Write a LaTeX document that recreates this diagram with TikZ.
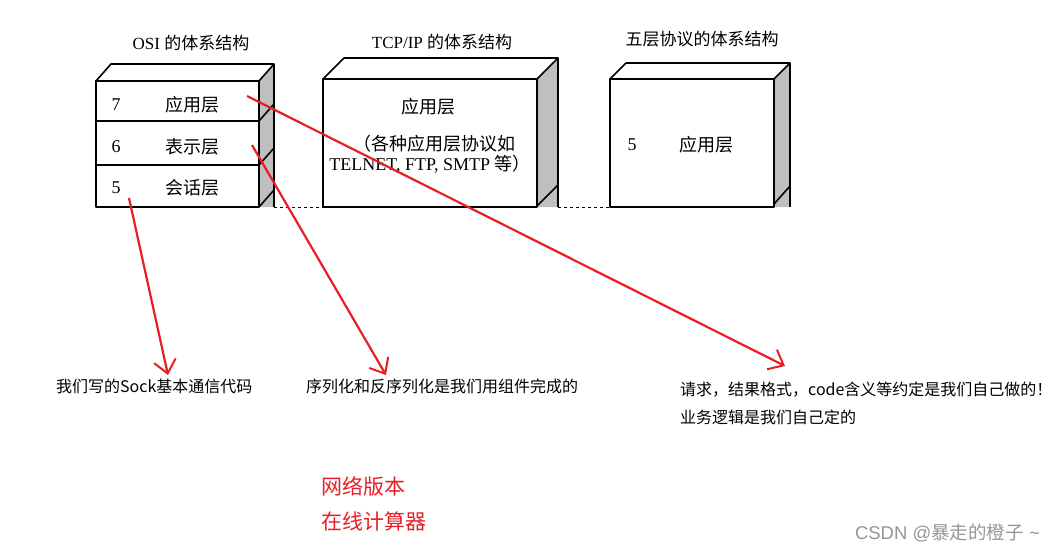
\documentclass[tikz,border=0pt]{standalone}
\usepackage{fontspec}
\setmainfont{Liberation Serif}
\setsansfont{Liberation Sans}
\newfontfamily\cjk{Noto Sans CJK SC}
\usepackage{xcolor}
\usepackage{tikz}
\usetikzlibrary{arrows.meta, positioning, calc}
\definecolor{penred}{RGB}{232,30,38}
\definecolor{wmgray}{RGB}{150,150,150}

\begin{document}
\begin{tikzpicture}[x=1pt, y=-1pt,
  box/.style={line width=1.6pt, line join=round},
  sideface/.style={fill=gray!50},
  title/.style={font=\fontsize{17}{20}\selectfont},
  layer/.style={font=\fontsize{18}{21}\selectfont},
  note/.style={font=\cjk\fontsize{16}{19}\selectfont, inner sep=0pt, anchor=west},
  redtext/.style={font=\cjk\fontsize{21}{25}\selectfont, text=penred, inner sep=0pt, anchor=west},
  pen/.style={penred, line width=2.2pt, -{Straight Barb[length=13pt, width=22pt, line width=2pt]}}]
  \useasboundingbox (0,0) rectangle (1056,552);

  % Titles
  \node[title] (osititle) at (191,43) {OSI {\cjk 的体系结构}};
  \node[title] (tcptitle) at (442,42) {TCP/IP {\cjk 的体系结构}};
  \node[title] (fivetitle) at (702,39) {\cjk 五层协议的体系结构};

  % OSI stack
  \fill[sideface] (259,81) -- (274,64) -- (274,207) -- (259,207) -- cycle;
  \draw[box] (96,81) -- (111,64) -- (274,64) -- (259,81);
  \draw[box] (96,81) rectangle (259,207);
  \draw[box] (274,64) -- (274,207);
  \draw[box] (96,121) -- (259,121) -- (274,104);
  \draw[box] (96,165) -- (259,165) -- (274,148);
  \draw[box] (259,207) -- (274,190);
  \node[layer] (n7) at (116,105) {7};
  \node[layer] (app) at (192,105) {\cjk 应用层};
  \node[layer] (n6) at (116,147) {6};
  \node[layer] (pres) at (192,147) {\cjk 表示层};
  \node[layer] (n5) at (116,188) {5};
  \node[layer] (sess) at (192,188) {\cjk 会话层};

  % TCP/IP stack
  \fill[sideface] (537,79) -- (558,58) -- (558,207) -- (537,207) -- cycle;
  \draw[box] (323,79) -- (344,58) -- (558,58) -- (537,79);
  \draw[box] (323,79) rectangle (537,207);
  \draw[box] (558,58) -- (558,207);
  \draw[box] (537,206) -- (558,185);
  \node[layer] (tcpapp) at (428,107) {\cjk 应用层};
  \node[layer] (tcpline1) at (434,144) {\cjk （各种应用层协议如};
  \node[layer] (tcpline2) at (430,164) {TELNET, FTP, SMTP {\cjk 等）}};

  % five layer stack
  \fill[sideface] (774,79) -- (790,63) -- (790,207) -- (774,207) -- cycle;
  \draw[box] (610,79) -- (626,63) -- (790,63) -- (774,79);
  \draw[box] (610,79) rectangle (774,207);
  \draw[box] (790,63) -- (790,207);
  \draw[box] (774,204) -- (790,186);
  \node[layer] (fn5) at (632,145) {5};
  \node[layer] (fiveapp) at (706,145) {\cjk 应用层};

  % dashed baseline
  \draw[dashed, line width=0.8pt] (274,207) -- (323,207);
  \draw[dashed, line width=0.8pt] (558,207) -- (610,207);

  % Notes
  \node[note] (socknote) at (56,386) {我们写的Sock基本通信代码};
  \node[note] (sernote) at (306,386) {序列化和反序列化是我们用组件完成的};
  \node[note] (reqnote) at (680,390) {请求，结果格式，code含义等约定是我们自己做的！};
  \node[note] (biznote) at (680,417) {业务逻辑是我们自己定的};
  \node[redtext] (netver) at (321,486) {网络版本};
  \node[redtext] (calcver) at (321,521) {在线计算器};
  \node[font=\sffamily\fontsize{18.5}{22}\selectfont, text=wmgray, anchor=east, inner sep=0pt] (wm) at (1040,533) {CSDN @{\cjk 暴走的橙子} \textasciitilde};

  % Red arrows
  \coordinate (sessfrom) at (129,198);
  \coordinate (socktip) at (168,375);
  \coordinate (presfrom) at (252,145);
  \coordinate (sertip) at (386,375);
  \coordinate (appfrom) at (247,96);
  \coordinate (reqtip) at (785,366);
  \draw[pen] (sessfrom) -- (socktip);
  \draw[pen] (presfrom) -- (sertip);
  \draw[pen] (appfrom) -- (reqtip);
\end{tikzpicture}
\end{document}
